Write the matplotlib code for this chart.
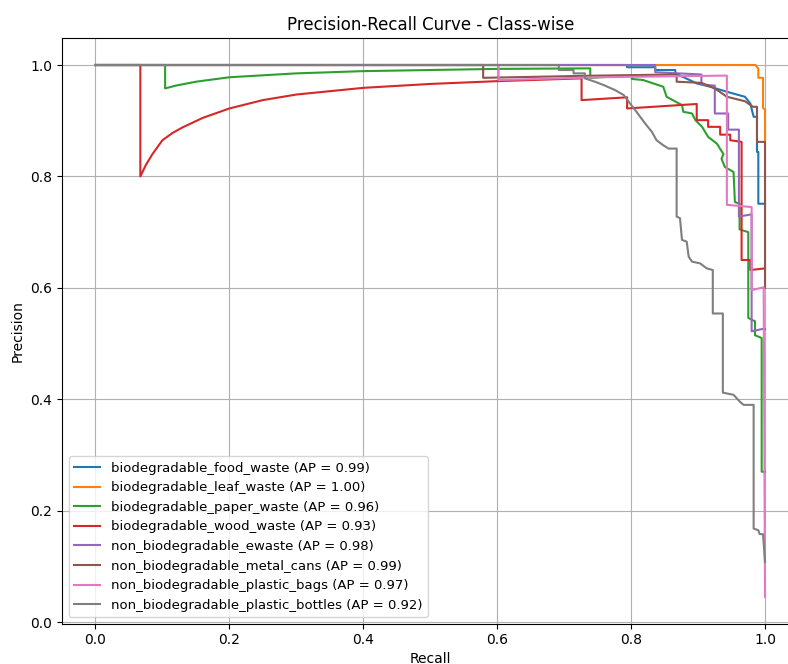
import matplotlib.pyplot as plt

# Class names and AP values
classes = ['biodegradable_food_waste', 'biodegradable_leaf_waste', 'biodegradable_paper_waste',
           'biodegradable_wood_waste', 'non_biodegradable_ewaste', 'non_biodegradable_metal_cans',
           'non_biodegradable_plastic_bags', 'non_biodegradable_plastic_bottles']
ap = [0.99, 1.00, 0.96, 0.93, 0.98, 0.99, 0.97, 0.92]

# Recall / precision points
food_r = [0.0, 0.794, 0.794, 0.836, 0.836, 0.866, 0.866, 0.898, 0.918, 0.943, 0.970, 0.978, 0.983, 0.988, 0.988, 0.990, 0.990, 1.0]
food_p = [1.0, 1.0, 0.996, 0.996, 0.991, 0.991, 0.985, 0.967, 0.961, 0.952, 0.943, 0.931, 0.907, 0.907, 0.844, 0.844, 0.751, 0.751]

leaf_r = [0.0, 0.986, 0.990, 0.990, 0.997, 0.997, 1.0, 1.0]
leaf_p = [1.0, 1.0, 0.993, 0.977, 0.977, 0.923, 0.920, 0.86]

paper_r = [0.0, 0.104, 0.104, 0.12, 0.15, 0.2, 0.3, 0.4, 0.5, 0.6, 0.739, 0.739, 0.801, 0.801, 0.818, 0.833,
           0.848, 0.853, 0.876, 0.878, 0.891, 0.896, 0.906, 0.915, 0.928, 0.938, 0.935, 0.940, 0.953, 0.955,
           0.962, 0.962, 0.975, 0.975, 0.985, 0.985, 0.995, 0.995, 1.0]
paper_p = [1.0, 1.0, 0.958, 0.963, 0.970, 0.978, 0.985, 0.989, 0.991, 0.993, 0.994, 0.977, 0.981, 0.975, 0.973, 0.967,
           0.961, 0.943, 0.928, 0.916, 0.913, 0.901, 0.889, 0.871, 0.859, 0.840, 0.832, 0.817, 0.808, 0.754,
           0.751, 0.705, 0.700, 0.546, 0.540, 0.515, 0.510, 0.27, 0.27]

wood_r = [0.0, 0.067, 0.067, 0.075, 0.085, 0.1, 0.115, 0.13, 0.16, 0.2, 0.25, 0.3, 0.4, 0.5, 0.6, 0.7, 0.726,
          0.726, 0.794, 0.794, 0.898, 0.898, 0.915, 0.915, 0.933, 0.933, 0.948, 0.948, 0.965, 0.965, 0.978,
          0.978, 1.0]
wood_p = [1.0, 1.0, 0.80, 0.82, 0.84, 0.865, 0.878, 0.888, 0.905, 0.922, 0.937, 0.947, 0.959, 0.966, 0.971, 0.975, 0.976,
          0.937, 0.942, 0.922, 0.930, 0.901, 0.901, 0.889, 0.889, 0.875, 0.875, 0.865, 0.862, 0.650, 0.650,
          0.632, 0.635]

ewaste_r = [0.0, 0.836, 0.836, 0.905, 0.905, 0.925, 0.925, 0.945, 0.945, 0.961, 0.961, 0.980, 0.980, 0.995, 1.0]
ewaste_p = [1.0, 1.0, 0.987, 0.983, 0.965, 0.963, 0.913, 0.913, 0.884, 0.884, 0.728, 0.732, 0.522, 0.526, 0.526]

metal_r = [0.0, 0.579, 0.579, 0.75, 0.868, 0.868, 0.905, 0.925, 0.943, 0.970, 0.982, 0.988, 0.988, 1.0, 1.0]
metal_p = [1.0, 1.0, 0.977, 0.981, 0.983, 0.970, 0.968, 0.958, 0.943, 0.935, 0.925, 0.925, 0.862, 0.862, 0.60]

bags_r = [0.0, 0.602, 0.602, 0.75, 0.943, 0.943, 0.962, 0.980, 0.980, 0.998, 1.0]
bags_p = [1.0, 1.0, 0.973, 0.978, 0.981, 0.749, 0.747, 0.745, 0.596, 0.601, 0.045]

bottles_r = [0.0, 0.692, 0.692, 0.714, 0.714, 0.731, 0.731, 0.746, 0.759, 0.776, 0.789, 0.799, 0.808, 0.821, 0.831,
             0.838, 0.848, 0.856, 0.868, 0.868, 0.873, 0.876, 0.883, 0.886, 0.891, 0.903, 0.913, 0.922, 0.922,
             0.937, 0.937, 0.953, 0.963, 0.968, 0.983, 0.983, 0.990, 0.992, 0.997, 1.0]
bottles_p = [1.0, 1.0, 0.991, 0.991, 0.985, 0.985, 0.976, 0.970, 0.964, 0.955, 0.946, 0.930, 0.916, 0.895, 0.880,
             0.865, 0.856, 0.850, 0.850, 0.728, 0.725, 0.686, 0.683, 0.656, 0.647, 0.644, 0.635, 0.632, 0.554,
             0.554, 0.412, 0.408, 0.395, 0.390, 0.390, 0.168, 0.165, 0.158, 0.158, 0.108]

recalls = [food_r, leaf_r, paper_r, wood_r, ewaste_r, metal_r, bags_r, bottles_r]
precisions = [food_p, leaf_p, paper_p, wood_p, ewaste_p, metal_p, bags_p, bottles_p]

fig = plt.figure(figsize=(7.88, 6.64), dpi=100)
ax = fig.add_axes([62 / 788, 40.3 / 664, 736.5 / 788, 585.3 / 664])

for name, a, r, p in zip(classes, ap, recalls, precisions):
    ax.plot(r, p, linewidth=1.5, label=f'{name} (AP = {a:.2f})')

ax.set_xlim(-0.05, 1.05)
ax.set_title('Precision-Recall Curve - Class-wise')
ax.set_xlabel('Recall', labelpad=3)
ax.set_ylabel('Precision')
ax.legend(loc='lower left', fontsize=9.5)
ax.grid(True)

fig.savefig('out.png', dpi=100)
